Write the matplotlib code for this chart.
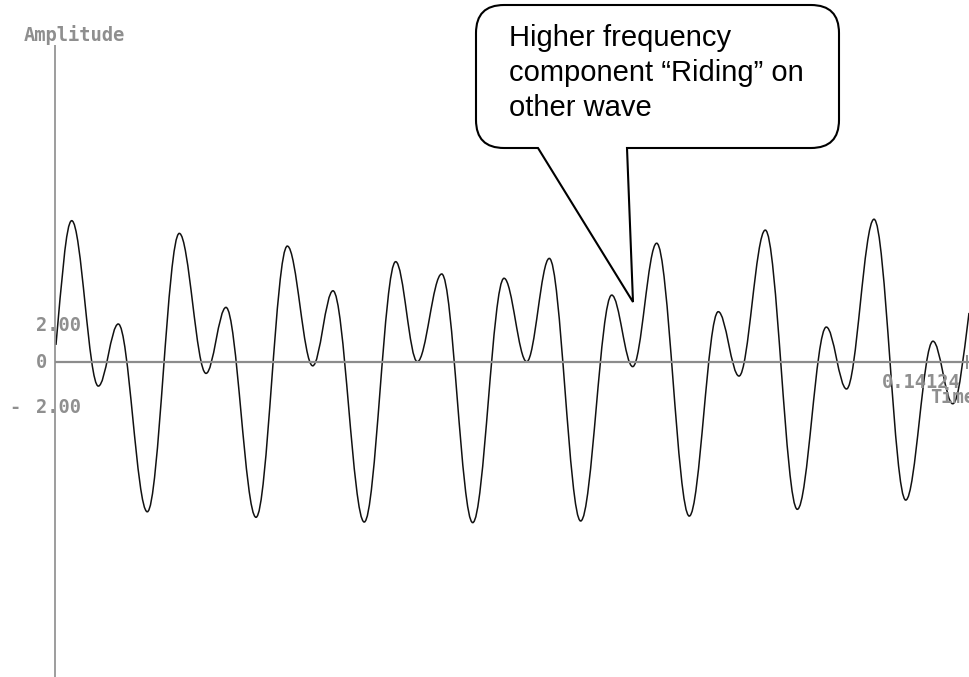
import matplotlib
matplotlib.use("Agg")
import matplotlib.pyplot as plt
from matplotlib.path import Path
from matplotlib.patches import PathPatch

# Waveform extremes (time in s, amplitude)
time_s = [0.00015, 0.00259, 0.00671, 0.00980, 0.01429, 0.01925, 0.02339, 0.02648,
          0.03113, 0.03598, 0.03991, 0.04305, 0.04789, 0.05276, 0.05611, 0.05989,
          0.06469, 0.06954, 0.07305, 0.07655, 0.08141, 0.08622, 0.08947, 0.09318,
          0.09823, 0.10272, 0.10593, 0.11000, 0.11496, 0.11945, 0.12258, 0.12684,
          0.13175, 0.13597, 0.13903, 0.14155]
amplitude = [0.81, 6.87, -1.20, 1.83, -7.33, 6.25, -0.58, 2.64,
             -7.60, 5.63, -0.21, 3.45, -7.83, 4.87, -0.01, 4.27,
             -7.86, 4.06, -0.01, 5.03, -7.78, 3.24, -0.25, 5.77,
             -7.54, 2.43, -0.71, 6.41, -7.21, 1.68, -1.34, 6.94,
             -6.76, 0.99, -2.06, 2.37]

ytick_values = [2.0, 0.0, -2.0]
ytick_labels = ["2.00", "0", "2.00"]
time_end = 0.14124
time_end_label = "0.14124"

callout_lines = ["Higher frequency", "component \u201cRiding\u201d on", "other wave"]

AXIS_GRAY = "#8c8c8c"
TEXT_GRAY = "#8f8f8f"
pixel_font = dict(family="DejaVu Sans Mono", fontweight="bold", fontsize=13.5, color=TEXT_GRAY)

fig = plt.figure(figsize=(9.69, 6.77), dpi=100)
fig.patch.set_facecolor("white")

# main axes: whole figure, plain data units
ax = fig.add_axes([0, 0, 1, 1])
ax.axis("off")
ax.set_xlim(-0.008518, 0.141549)
ax.set_ylim(-15.39, 17.634)

# axis lines of the old plotting program
ax.plot([0, 0], [-15.39, 15.44], color=AXIS_GRAY, lw=1.2, solid_capstyle="butt")
ax.plot([0, 0.1416], [0, 0], color=AXIS_GRAY, lw=1.6, solid_capstyle="butt")
ax.plot([time_end, time_end], [0.25, -0.3], color=AXIS_GRAY, lw=1.4)

# smooth wave through the extremes (horizontal tangents at peaks/troughs)
K = 0.36
verts = [(time_s[0], amplitude[0])]
codes = [Path.MOVETO]
n = len(time_s)
for i in range(n - 1):
    t0, a0 = time_s[i], amplitude[i]
    t1, a1 = time_s[i + 1], amplitude[i + 1]
    dt = t1 - t0
    c1 = (t0 + K * dt, a0)
    c2 = (t1 - K * dt, a1)
    if i == 0:
        c1 = (t0 + K * dt, a0 + 0.5 * (a1 - a0))
    if i == n - 2:
        c2 = (t1 - K * dt, a1 - 0.5 * (a1 - a0))
    verts += [c1, c2, (t1, a1)]
    codes += [Path.CURVE4] * 3
ax.add_patch(PathPatch(Path(verts, codes), fill=False, ec="#111111", lw=1.1))

# tick labels (drawn a bit low, like the original program does)
for val, lab in zip(ytick_values, ytick_labels):
    dy = -0.5 if val == 0 else -4.5
    ax.annotate(lab, xy=(0, val), xytext=(-19, dy), textcoords="offset pixels",
                ha="left", va="center", **pixel_font)
    if val < 0:
        ax.annotate("-", xy=(0, val), xytext=(-46, dy), textcoords="offset pixels",
                    ha="left", va="center", **pixel_font)

ax.annotate("Amplitude", xy=(0, 15.44), xytext=(-31, 10), textcoords="offset pixels",
            ha="left", va="center", **pixel_font)
ax.annotate(time_end_label, xy=(time_end, 0), xytext=(-85, -20.5), textcoords="offset pixels",
            ha="left", va="center", **pixel_font)
ax.annotate("Time", xy=(time_end, 0), xytext=(-37, -35.5), textcoords="offset pixels",
            ha="left", va="center", **pixel_font)

# overlay in pixel units for the speech bubble
ov = fig.add_axes([0, 0, 1, 1])
ov.axis("off")
ov.patch.set_visible(False)
ov.set_xlim(0, 969)
ov.set_ylim(677, 0)

L, R, T, B, r = 476, 839, 5, 148, 28
tail_left, tail_right, tip = 538, 627, (633, 302)
bubble = [
    ((L + r, T), Path.MOVETO),
    ((R - r, T), Path.LINETO),
    ((R, T), Path.CURVE3), ((R, T + r), Path.CURVE3),
    ((R, B - r), Path.LINETO),
    ((R, B), Path.CURVE3), ((R - r, B), Path.CURVE3),
    ((tail_right, B), Path.LINETO),
    (tip, Path.LINETO),
    ((tail_left, B), Path.LINETO),
    ((L + r, B), Path.LINETO),
    ((L, B), Path.CURVE3), ((L, B - r), Path.CURVE3),
    ((L, T + r), Path.LINETO),
    ((L, T), Path.CURVE3), ((L + r, T), Path.CURVE3),
    ((L + r, T), Path.CLOSEPOLY),
]
bv, bc = zip(*bubble)
ov.add_patch(PathPatch(Path(bv, bc), fc="white", ec="black", lw=1.5, joinstyle="miter"))

for line, base in zip(callout_lines, [46, 81, 116]):
    ov.text(509, base, line, family="Liberation Sans", fontsize=21,
            ha="left", va="baseline", color="black")

fig.savefig("out.png", dpi=100, facecolor="white")
